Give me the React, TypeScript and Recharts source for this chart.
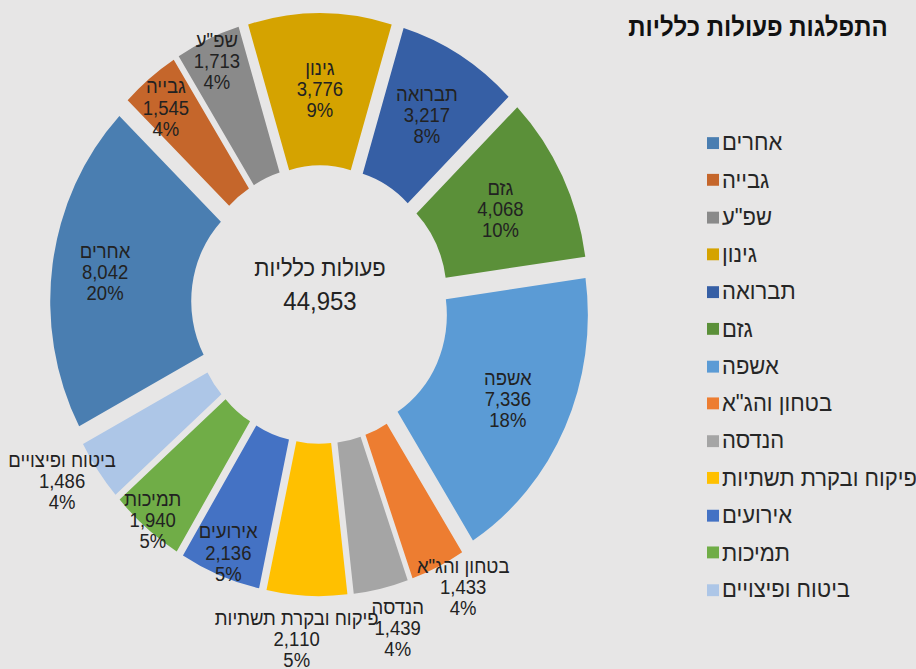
import React from 'react';
import { PieChart, Pie, Cell, Sector, Tooltip } from 'recharts';

const CATEGORIES = [
  'אחרים',
  'גבייה',
  'שפ"ע',
  'גינון',
  'תברואה',
  'גזם',
  'אשפה',
  'בטחון והג"א',
  'הנדסה',
  'פיקוח ובקרת תשתיות',
  'אירועים',
  'תמיכות',
  'ביטוח ופיצויים',
];
const VALUES = [8042, 1545, 1713, 3776, 3217, 4068, 7336, 1433, 1439, 2110, 2136, 1940, 1486];
const COLORS = [
  '#4A7EB1', '#C5662B', '#8A8A8A', '#D5A300', '#365FA5', '#5B9039', '#5B9BD5',
  '#ED7D31', '#A5A5A5', '#FFC000', '#4472C4', '#70AD47', '#ADC6E7',
];
const TITLE = 'התפלגות פעולות כלליות';
const CENTER_LABEL = 'פעולות כלליות';
const CENTER_TOTAL = 44953;

// where each data label sits (Excel "best fit"): distance from centre, and a small
// clockwise nudge in degrees away from the slice's mid angle
const LABEL_RADII = [217, 239, 248, 200, 206, 201, 207, 298, 309, 310, 247, 260, 305];
const LABEL_NUDGE = [0, -1, 0, 0, 0, 0, 0, -2.8, -1.5, 1.5, 0, 0, 2.4];

const data = CATEGORIES.map((name, i) => ({ name, value: VALUES[i] }));

const BG = '#E7E6E6';
const FONT = '"Liberation Sans", Arial, sans-serif';
const SCALE_Y = 1.08;
const W = 916;
const H = 620;
const CX = 320;
const CY = 282;
const EXPLODE = 23;
const RAD = Math.PI / 180;

const ExplodedSector = (props: any) => {
  const { cx, cy, midAngle } = props;
  const dx = EXPLODE * Math.cos(-midAngle * RAD);
  const dy = EXPLODE * Math.sin(-midAngle * RAD);
  return <Sector {...props} cx={cx + dx} cy={cy + dy} stroke="none" />;
};

const renderLabel = (p: any) => {
  const { cx, cy, midAngle, index, value, percent, name } = p;
  const r = LABEL_RADII[index];
  const a = (midAngle - LABEL_NUDGE[index]) * RAD;
  const x = cx + r * Math.cos(-a);
  const y = cy + r * Math.sin(-a);
  const lh = 19.5;
  return (
    <text
      x={x}
      y={y}
      textAnchor="middle"
      dominantBaseline="central"
      fontSize={18.5}
      fontFamily={FONT}
      fill="#222"
    >
      <tspan x={x} dy={-lh}>{name}</tspan>
      <tspan x={x} dy={lh}>{Number(value).toLocaleString('en-US')}</tspan>
      <tspan x={x} dy={lh}>{Math.round(percent * 100)}%</tspan>
    </text>
  );
};

export default function App() {
  return (
    <div
      style={{
        position: 'absolute',
        left: 0,
        top: 0,
        width: 916,
        height: 669,
        background: BG,
        overflow: 'hidden',
        fontFamily: FONT,
      }}
    >
      <div style={{ position: 'relative', width: W, height: H, transform: `scaleY(${SCALE_Y})`, transformOrigin: '0 0' }}>
        <PieChart width={W} height={H} margin={{ top: 0, right: 0, bottom: 0, left: 0 }}>
          <Pie
            data={data}
            dataKey="value"
            nameKey="name"
            cx={CX}
            cy={CY}
            innerRadius={106}
            outerRadius={247}
            startAngle={208}
            endAngle={-152}
            stroke="none"
            isAnimationActive={false}
            label={renderLabel}
            labelLine={false}
            shape={ExplodedSector}
            activeShape={ExplodedSector}
            inactiveShape={ExplodedSector}
          >
            {data.map((d, i) => (
              <Cell key={d.name} fill={COLORS[i]} />
            ))}
          </Pie>
          <Tooltip defaultIndex={0} content={() => null} cursor={false} />
        </PieChart>

        <div
          style={{
            position: 'absolute',
            left: CX - 120,
            top: CY - 48,
            width: 240,
            textAlign: 'center',
            color: '#222',
          }}
        >
          <div style={{ fontSize: 22, lineHeight: '30px' }}>{CENTER_LABEL}</div>
          <div style={{ fontSize: 24, lineHeight: '30px' }}>{CENTER_TOTAL.toLocaleString('en-US')}</div>
        </div>

        <div
          style={{
            position: 'absolute',
            left: 618,
            top: 11,
            width: 280,
            textAlign: 'center',
            fontSize: 24,
            fontWeight: 'bold',
            color: '#111',
            whiteSpace: 'nowrap',
            lineHeight: '28px',
          }}
        >
          {TITLE}
        </div>

        <div style={{ position: 'absolute', left: 707, top: 115 }}>
          {CATEGORIES.map((name, i) => (
            <div
              key={name}
              style={{ display: 'flex', alignItems: 'center', height: 34.5, whiteSpace: 'nowrap' }}
            >
              <span style={{ width: 12, height: 11, background: COLORS[i], display: 'inline-block', marginRight: 3 }} />
              <span style={{ fontSize: 22, color: '#262626' }}>{name}</span>
            </div>
          ))}
        </div>
      </div>
    </div>
  );
}
